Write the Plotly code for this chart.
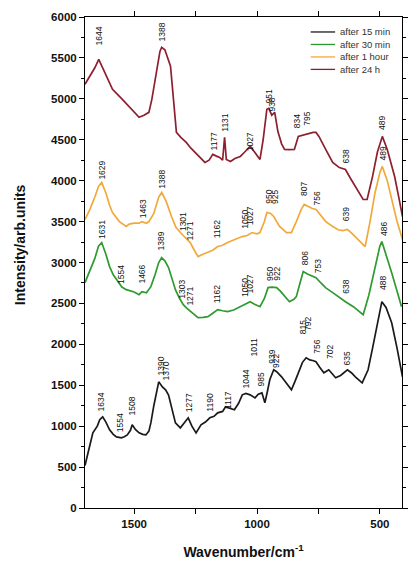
import plotly.graph_objects as go

# ---- data ----
w_24h = [1700,1675,1660,1644,1620,1588,1548,1520,1508,1480,1460,1440,1428,1410,1395,1388,1375,1352,1340,1328,1310,1288,1270,1252,1230,1212,1195,1180,1165,1152,1140,1132,1125,1108,1090,1068,1050,1028,1010,988,975,960,952,940,928,915,900,888,870,848,832,810,790,772,760,748,720,692,665,640,620,600,580,568,552,530,510,490,470,440,420,408]
i_24h = [5178,5300,5380,5483,5330,5116,4994,4908,4872,4774,4800,4835,4994,5300,5580,5630,5600,5398,5000,4590,4530,4468,4400,4345,4280,4223,4250,4321,4300,4284,4250,4529,4260,4235,4270,4296,4350,4419,4350,4260,4500,4872,4884,4800,4835,4600,4450,4382,4380,4382,4541,4560,4580,4590,4590,4541,4380,4223,4160,4137,4030,3929,3840,3770,3770,4050,4350,4541,4380,4051,3750,3562]

w_1h = [1700,1680,1660,1645,1632,1615,1600,1588,1560,1532,1520,1500,1480,1468,1450,1440,1420,1400,1388,1370,1348,1330,1312,1290,1272,1255,1240,1220,1200,1180,1160,1140,1120,1090,1060,1040,1020,1000,988,970,960,945,932,920,908,880,860,840,820,808,790,775,760,740,720,692,670,650,632,615,600,580,560,540,520,500,490,470,452,430,408]
i_1h = [3525,3650,3800,3930,3978,3850,3700,3611,3500,3440,3470,3480,3480,3500,3480,3500,3600,3800,3855,3750,3562,3430,3366,3300,3244,3150,3072,3100,3121,3150,3195,3210,3244,3280,3317,3330,3366,3350,3366,3500,3611,3600,3562,3500,3440,3366,3366,3500,3650,3709,3680,3660,3648,3570,3500,3440,3400,3390,3403,3360,3317,3250,3195,3500,3850,4100,4174,4000,3770,3500,3280]

w_30m = [1700,1680,1660,1645,1632,1615,1600,1585,1572,1550,1532,1500,1480,1468,1450,1432,1415,1400,1388,1375,1360,1345,1332,1315,1300,1285,1268,1255,1240,1220,1200,1180,1160,1140,1120,1095,1068,1048,1028,1010,988,970,955,940,920,905,892,868,850,840,825,812,795,775,760,740,720,692,665,640,608,585,568,545,520,500,492,475,452,430,412]
i_30m = [2754,2900,3050,3200,3244,3100,2950,2850,2790,2700,2668,2640,2607,2644,2630,2705,2850,3000,3060,3020,2938,2800,2668,2560,2485,2440,2399,2360,2326,2330,2338,2380,2424,2410,2399,2420,2460,2490,2521,2490,2460,2560,2693,2700,2693,2650,2607,2521,2550,2583,2750,2889,2860,2830,2815,2750,2690,2632,2570,2521,2460,2400,2362,2600,2950,3200,3256,3100,2876,2650,2460]

w_15m = [1700,1685,1668,1650,1640,1628,1615,1600,1585,1572,1552,1540,1528,1515,1508,1495,1480,1465,1452,1440,1432,1420,1410,1400,1385,1372,1360,1352,1340,1332,1312,1295,1280,1265,1248,1228,1210,1192,1175,1160,1140,1128,1110,1092,1075,1060,1045,1028,1008,995,980,968,958,948,932,920,900,880,860,845,832,815,800,785,770,760,745,728,708,695,680,660,645,632,615,600,572,560,548,530,508,492,475,452,430,408]
i_15m = [520,700,918,1000,1080,1114,1050,955,900,869,857,870,893,950,1016,960,918,900,893,940,1040,1250,1400,1542,1480,1444,1380,1285,1150,1040,979,1040,1102,1000,918,1016,1050,1102,1120,1163,1180,1236,1220,1200,1280,1383,1400,1383,1346,1390,1407,1285,1420,1567,1689,1665,1603,1520,1444,1550,1652,1780,1836,1810,1800,1787,1720,1652,1689,1640,1591,1620,1660,1689,1650,1603,1530,1600,1689,1950,2301,2521,2450,2264,1950,1603]

# peak labels (wavenumber text) and the intensity at which each label starts
lab_24h = [1644,1388,1177,1131,1027,951,938,834,795,638,489]
laby_24h = [5643,5690,4357,4590,4345,4933,4835,4627,4664,4198,4602]
lab_1h = [1629,1463,1388,1301,1271,1162,1050,1027,950,925,807,756,639,489]
laby_1h = [4000,3525,3892,3366,3256,3280,3403,3440,3709,3709,3807,3684,3488,4230]
lab_30m = [1631,1554,1466,1389,1303,1271,1162,1050,1027,950,922,806,753,638,486]
laby_30m = [3280,2730,2730,3133,2546,2460,2485,2570,2607,2766,2766,2950,2852,2607,3317]
lab_15m = [1634,1554,1508,1390,1370,1277,1190,1117,1044,1011,985,939,922,815,792,756,702,635,488]
laby_15m = [1163,918,1114,1603,1542,1163,1163,1200,1444,1836,1469,1750,1700,2117,2154,1873,1811,1726,2650]

names = ["after 15 min", "after 30 min", "after 1 hour", "after 24 h"]
colors = ["#1a1a1a", "#2f9a2f", "#f2a93b", "#8e1f2f"]
xs = [w_15m, w_30m, w_1h, w_24h]
ys = [i_15m, i_30m, i_1h, i_24h]
labs = [lab_15m, lab_30m, lab_1h, lab_24h]
labys = [laby_15m, laby_30m, laby_1h, laby_24h]

fig = go.Figure()
annotations = []
shapes = []
for k in range(4):
    fig.add_trace(go.Scatter(x=xs[k], y=ys[k], mode="lines", name=names[k],
                             line=dict(color=colors[k], width=1.7), showlegend=False))
    for lv, ly in zip(labs[k], labys[k]):
        annotations.append(dict(x=lv, y=ly, xref="x", yref="y", text=str(lv),
                                showarrow=False, textangle=-90,
                                xanchor="center", yanchor="bottom",
                                font=dict(family="Liberation Sans", size=8.5, color="#111"),
                                borderpad=0))

# compact legend, as in the reference
leg_y0, leg_dy = 0.9695, 0.0254
for k in range(4):
    yy = leg_y0 - k * leg_dy
    shapes.append(dict(type="line", xref="paper", yref="paper",
                       x0=0.712, x1=0.789, y0=yy, y1=yy,
                       line=dict(color=colors[k], width=1.3)))
    annotations.append(dict(text=names[k], xref="paper", yref="paper",
                            x=0.797, y=yy, showarrow=False,
                            xanchor="left", yanchor="middle",
                            font=dict(family="Liberation Sans", size=9.5, color="#333")))

annotations.append(dict(text="<b>Intensity/arb.units</b>", xref="paper", yref="paper",
                        x=-0.207, y=0.536, showarrow=False, textangle=-90,
                        xanchor="center", yanchor="middle",
                        font=dict(family="Liberation Sans", size=14, color="#111")))

axis_common = dict(showline=True, linecolor="black", linewidth=1, mirror="ticks",
                   ticks="outside", tickcolor="black", ticklen=5, showgrid=False,
                   zeroline=False,
                   tickfont=dict(family="Liberation Sans", size=11.5, color="#111", weight="bold"))

fig.update_layout(
    width=410, height=561,
    margin=dict(l=85, r=2, t=17, b=53),
    paper_bgcolor="white", plot_bgcolor="white",
    xaxis=dict(range=[1700, 410], tickvals=[1500, 1000, 500],
               minor=dict(tickvals=[1250, 750], ticklen=5, tickcolor="black", ticks="outside"),
               title=dict(text="<b>Wavenumber/cm<sup>-1</sup></b>", standoff=18,
                          font=dict(family="Liberation Sans", size=14, color="#111")),
               **axis_common),
    yaxis=dict(range=[0, 6000], dtick=500,
               minor=dict(dtick=250, ticklen=3, tickcolor="black", ticks="outside"),
               **axis_common),
    annotations=annotations,
    shapes=shapes,
    showlegend=False,
)

fig.write_html("out.html")
